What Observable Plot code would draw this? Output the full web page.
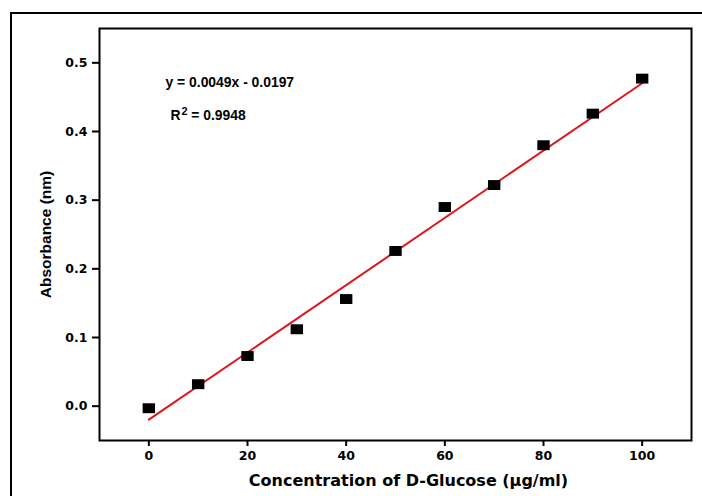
<!DOCTYPE html>
<html>
<head>
<meta charset="utf-8">
<script src="https://cdn.jsdelivr.net/npm/d3@7"></script>
<script src="https://cdn.jsdelivr.net/npm/@observablehq/plot@0.6"></script>
<style>
  html, body { margin: 0; padding: 0; background: #fff; }
  #wrap { position: relative; width: 702px; height: 496px; overflow: hidden; }
  #outer { position: absolute; left: 10px; top: 12px; width: 760px; height: 560px;
           border-left: 2px solid #000; border-top: 2px solid #000; pointer-events: none; }
</style>
</head>
<body>
<div id="wrap"><div id="outer"></div></div>
<script>
// Data
const concentration = [0, 10, 20, 30, 40, 50, 60, 70, 80, 90, 100];
const absorbance    = [-0.003, 0.032, 0.073, 0.112, 0.156, 0.226, 0.290, 0.322, 0.380, 0.426, 0.477];
const xTicks = [0, 20, 40, 60, 80, 100];
const yTicks = [0.0, 0.1, 0.2, 0.3, 0.4, 0.5];
const fitSlope = 0.0049;
const fitIntercept = -0.0197;
const fitRange = [0, 100];
const equationLabel = "y = 0.0049x - 0.0197";
const r2Base = "R";
const r2Exp = "2";
const r2Value = " = 0.9948";
const xLabel = "Concentration of D-Glucose (\u00B5g/ml)";
const yLabel = "Absorbance (nm)";

const points = concentration.map((c, i) => ({x: c, y: absorbance[i]}));
const fitLine = fitRange.map(x => ({x, y: fitSlope * x + fitIntercept}));

// wide square marker (reference markers are slightly wider than tall)
const wideSquare = {
  draw(ctx, size) {
    const h = Math.sqrt(size) / 2, w = h * 1.25;
    ctx.moveTo(-w, -h); ctx.lineTo(w, -h); ctx.lineTo(w, h); ctx.lineTo(-w, h); ctx.closePath();
  }
};

const tickFont = "'DejaVu Sans', sans-serif";
const arial = "'Liberation Sans', Arial, sans-serif";
const chart = Plot.plot({
  width: 702,
  height: 496,
  marginLeft: 99,
  marginRight: 11,
  marginTop: 28,
  marginBottom: 56,
  style: {background: "transparent", color: "#000"},
  x: {domain: [-10, 110]},
  y: {domain: [-0.05, 0.55]},
  marks: [
    Plot.axisX({ticks: xTicks, tickSize: 6, tickPadding: 5, strokeWidth: 2, label: null,
      fontSize: 12.5, fontWeight: "bold", fontFamily: tickFont, tickFormat: d3.format("d")}),
    Plot.axisY({ticks: yTicks, tickSize: 7, tickPadding: 5, strokeWidth: 2, label: null,
      fontSize: 12.5, fontWeight: "bold", fontFamily: tickFont, tickFormat: d3.format(".1f")}),
    Plot.line(fitLine, {x: "x", y: "y", stroke: "#e0141e", strokeWidth: 2}),
    Plot.dot(points, {x: "x", y: "y", symbol: wideSquare, r: 5.6, fill: "#000", stroke: "none"}),
    Plot.frame({stroke: "#000", strokeWidth: 2}),
    Plot.text([equationLabel], {text: d => d, frameAnchor: "top-left", textAnchor: "start", lineAnchor: "middle",
      dx: 66, dy: 54, fontSize: 13.9, fontWeight: "bold", fontFamily: arial}),
    Plot.text([r2Base + r2Exp + r2Value], {text: d => d, frameAnchor: "top-left", textAnchor: "start", lineAnchor: "middle",
      dx: 71, dy: 87, fontSize: 13.9, fontWeight: "bold", fontFamily: arial, className: "r2label"}),
    Plot.text([xLabel], {text: d => d, frameAnchor: "bottom", textAnchor: "middle", lineAnchor: "middle", dx: 13, dy: 40,
      fontSize: 16, fontWeight: "bold", fontFamily: tickFont}),
    Plot.text([yLabel], {text: d => d, frameAnchor: "left", textAnchor: "middle", rotate: -90, lineAnchor: "middle", dx: -53,
      fontSize: 15.5, fontWeight: "bold", fontFamily: arial})
  ]
});
document.getElementById("wrap").prepend(chart);

// render the R² exponent as a raised superscript
d3.select(chart).selectAll(".r2label text").each(function() {
  const t = d3.select(this);
  t.text(null);
  t.append("tspan").text(r2Base);
  t.append("tspan").attr("dx", "0.08em").attr("dy", "-0.5em").attr("font-size", "0.78em").text(r2Exp);
  t.append("tspan").attr("dy", "0.39em").text(r2Value);
});
</script>
</body>
</html>
